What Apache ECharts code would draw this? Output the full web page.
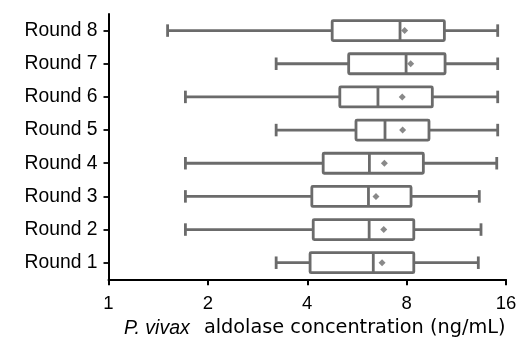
<!DOCTYPE html>
<html>
<head>
<meta charset="utf-8">
<script src="https://cdn.jsdelivr.net/npm/echarts@6/dist/echarts.min.js"></script>
<style>html,body{margin:0;padding:0;background:#fff;}#c{width:520px;height:338px;}</style>
</head>
<body>
<div id="c"></div>
<script>
const categories = ['Round 1','Round 2','Round 3','Round 4','Round 5','Round 6','Round 7','Round 8'];
const lowWhisker = [3.22, 1.71, 1.71, 1.71, 3.22, 1.71, 3.22, 1.51];
const q1 = [4.08, 4.17, 4.13, 4.47, 5.62, 5.02, 5.34, 4.76];
const median = [6.34, 6.16, 6.13, 6.17, 6.88, 6.55, 7.97, 7.64];
const q3 = [8.41, 8.41, 8.25, 8.99, 9.35, 9.57, 10.46, 10.41];
const highWhisker = [13.19, 13.44, 13.28, 15.0, 15.1, 15.1, 15.1, 15.1];
const means = [6.74, 6.82, 6.46, 6.85, 7.78, 7.76, 8.23, 7.89];
const xTicks = [1, 2, 4, 8, 16];

const boxData = categories.map((c, i) => [lowWhisker[i], q1[i], median[i], q3[i], highWhisker[i], i]);
const meanData = categories.map((c, i) => [means[i], i]);

const GRAY = '#6b6b6b';
const LW = 2.8;
const FONT = 'Liberation Sans, Arial, sans-serif';
const WIDE = 'DejaVu Sans, sans-serif';

function renderBox(params, api) {
  const idx = api.value(5);
  const pMin = api.coord([api.value(0), idx]);
  const pQ1 = api.coord([api.value(1), idx]);
  const pMed = api.coord([api.value(2), idx]);
  const pQ3 = api.coord([api.value(3), idx]);
  const pMax = api.coord([api.value(4), idx]);
  const y = pMin[1];
  const bh = 20, ch = 12.5;
  const style = { stroke: GRAY, lineWidth: LW, fill: null };
  return {
    type: 'group',
    children: [
      { type: 'line', shape: { x1: pMin[0], y1: y, x2: pQ1[0], y2: y }, style },
      { type: 'line', shape: { x1: pQ3[0], y1: y, x2: pMax[0], y2: y }, style },
      { type: 'line', shape: { x1: pMin[0], y1: y - ch / 2, x2: pMin[0], y2: y + ch / 2 }, style },
      { type: 'line', shape: { x1: pMax[0], y1: y - ch / 2, x2: pMax[0], y2: y + ch / 2 }, style },
      { type: 'rect', shape: { x: pQ1[0], y: y - bh / 2, width: pQ3[0] - pQ1[0], height: bh, r: 1 }, style: { stroke: GRAY, lineWidth: LW, fill: '#fff' } },
      { type: 'line', shape: { x1: pMed[0], y1: y - bh / 2, x2: pMed[0], y2: y + bh / 2 }, style }
    ]
  };
}

const chart = echarts.init(document.getElementById('c'), null, { renderer: 'canvas' });
chart.setOption({
  animation: false,
  textStyle: { fontFamily: FONT },
  grid: { left: 108.5, right: 14, top: 14, bottom: 58.7, containLabel: false, outerBoundsMode: 'none' },
  xAxis: {
    type: 'log', logBase: 2, min: xTicks[0], max: xTicks[xTicks.length - 1],
    axisLine: { show: true, lineStyle: { color: '#000', width: 2 } },
    axisTick: { show: true, length: 6, lineStyle: { color: '#000', width: 2 } },
    minorTick: { show: false },
    splitLine: { show: false },
    axisLabel: { color: '#000', fontSize: 18.5, margin: 15, fontFamily: FONT },
    name: '{i|P. vivax}{r| aldolase concentration (ng/mL)}',
    nameLocation: 'middle',
    nameGap: 38,
    nameTextStyle: {
      color: '#000', fontSize: 19, fontFamily: FONT, padding: [0, 0, 0, 15],
      rich: {
        i: { fontStyle: 'italic', fontSize: 19.5, lineHeight: 22, verticalAlign: 'middle', color: '#000', fontFamily: FONT, padding: [0, 8, 0, 0] },
        r: { fontSize: 19.3, lineHeight: 22, verticalAlign: 'middle', color: '#000', fontFamily: WIDE }
      }
    }
  },
  yAxis: {
    type: 'category', data: categories,
    axisLine: { show: true, lineStyle: { color: '#000', width: 2 } },
    axisTick: { show: true, length: 5, alignWithLabel: true, lineStyle: { color: '#000', width: 1.8 } },
    axisLabel: { color: '#000', fontSize: 19.3, margin: 11, fontFamily: FONT },
    splitLine: { show: false }
  },
  series: [
    {
      type: 'custom',
      renderItem: renderBox,
      data: boxData,
      encode: { x: [0, 1, 2, 3, 4], y: 5 },
      z: 2
    },
    {
      type: 'scatter',
      data: meanData,
      symbol: 'diamond',
      symbolSize: 7,
      itemStyle: { color: GRAY },
      z: 3
    }
  ]
});
</script>
</body>
</html>
